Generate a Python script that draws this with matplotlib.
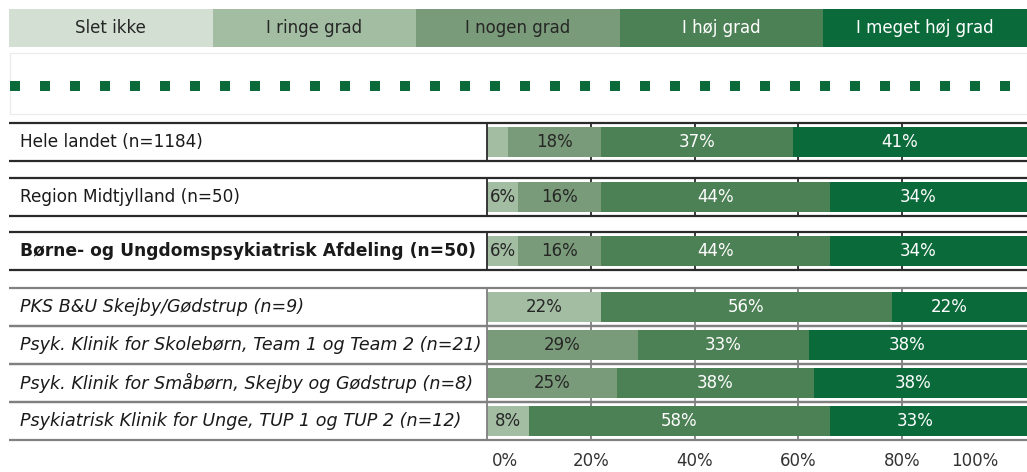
import matplotlib
matplotlib.use("Agg")
import matplotlib.pyplot as plt
import matplotlib.transforms as mtransforms
from matplotlib.lines import Line2D
from matplotlib.patches import Rectangle
import numpy as np

plt.rcParams['font.family'] = ['DejaVu Sans']

# ---------------- data ----------------
categories = ["Slet ikke", "I ringe grad", "I nogen grad", "I høj grad", "I meget høj grad"]
groups = [
    "Hele landet (n=1184)",
    "Region Midtjylland (n=50)",
    "Børne- og Ungdomspsykiatrisk Afdeling (n=50)",
    "PKS B&U Skejby/Gødstrup (n=9)",
    "Psyk. Klinik for Skolebørn, Team 1 og Team 2 (n=21)",
    "Psyk. Klinik for Småbørn, Skejby og Gødstrup (n=8)",
    "Psykiatrisk Klinik for Unge, TUP 1 og TUP 2 (n=12)",
]
slet_ikke = [0, 0, 0, 0, 0, 0, 0]
ringe_grad = [4, 6, 6, 22, 0, 0, 8]
nogen_grad = [18, 16, 16, 0, 29, 25, 0]
hoej_grad = [37, 44, 44, 56, 33, 38, 58]
meget_hoej_grad = [41, 34, 34, 22, 38, 38, 33]
tick_values = [0, 20, 40, 60, 80, 100]
tick_labels = ["0%", "20%", "40%", "60%", "80%", "100%"]

series = [slet_ikke, ringe_grad, nogen_grad, hoej_grad, meget_hoej_grad]

# ---------------- style ----------------
colors = ['#D3DFD3', '#A3BDA3', '#7A9B7A', '#4C8055', '#0B6A3A']
text_colors = ['#262626', '#262626', '#262626', 'white', 'white']
FS = 12
label_fs = {'normal': 12.2, 'bold': 12.3, 'italic': 12.6}

W, H = 1027, 472
fig = plt.figure(figsize=(W / 100, H / 100), dpi=100)

# pixel layout
X0_PX = 487          # 0 % position
PX_PER_PCT = 5.19
LEFT_PX = 9
AX_BOTTOM_PX = 450   # bottom of main axes (from top)
row_centers = [142, 196.5, 251, 306.5, 344.5, 383, 420.5]
row_h = 38
bar_h = 30
upper = [True, True, True, False, False, False, False]
label_style = ['normal', 'normal', 'bold', 'italic', 'italic', 'italic', 'italic']

xmin = (0 - X0_PX) / PX_PER_PCT
xmax = (W - X0_PX) / PX_PER_PCT
xl = (LEFT_PX - X0_PX) / PX_PER_PCT

# ---------------- legend ----------------
lax = fig.add_axes([LEFT_PX / W, 1 - 47 / H, (W - LEFT_PX) / W, 38 / H])
lax.barh([0] * len(categories), [1] * len(categories), left=np.arange(len(categories)),
         color=colors, height=1.0, edgecolor='none')
for i, cat in enumerate(categories):
    lax.text(i + 0.5, 0, cat, ha='center', va='center', fontsize=FS, color=text_colors[i])
lax.set_xlim(0, len(categories))
lax.set_ylim(-0.5, 0.5)
lax.axis('off')

# dotted line box
fig.add_artist(Rectangle((10 / W, 1 - 114 / H), (W - 10) / W, 61 / H, transform=fig.transFigure,
                         facecolor='white', edgecolor='#EBEBEB', lw=0.8))
fig.add_artist(Line2D([10 / W, 1.0], [1 - 86 / H, 1 - 86 / H], transform=fig.transFigure,
                      color='#0B6A3A', lw=7.2, linestyle=(0, (1, 2)), solid_capstyle='butt',
                      dash_capstyle='butt'))

# ---------------- main axes ----------------
ax = fig.add_axes([0, 1 - AX_BOTTOM_PX / H, 1, AX_BOTTOM_PX / H])
ax.set_xlim(xmin, xmax)
ax.set_ylim(AX_BOTTOM_PX, 0)

for r, (g, yc) in enumerate(zip(groups, row_centers)):
    top, bot = yc - row_h / 2, yc + row_h / 2
    lc = '#2a2a2a' if upper[r] else '#808080'
    # gridlines inside row
    ax.vlines(tick_values[1:-1], top, bot, colors=lc, lw=1.3, zorder=1)
    # row borders
    ax.hlines([top, bot], xl, xmax, colors=lc, lw=1.6, zorder=4)
    ax.vlines([0], top, bot, colors=lc, lw=1.3, zorder=4)
    # label
    st = label_style[r]
    ax.text(xl + 11 / PX_PER_PCT, yc, g, ha='left', va='center', fontsize=label_fs[st],
            color='#1a1a1a',
            fontweight='bold' if st == 'bold' else 'normal',
            fontstyle='italic' if st == 'italic' else 'normal')
    # bars
    left = 0
    nonzero = [k for k in range(len(series)) if series[k][r] > 0]
    last = nonzero[-1]
    for k in nonzero:
        v = series[k][r]
        width = (xmax - left) if k == last else v
        ax.barh(yc, width, left=left, height=bar_h, color=colors[k], edgecolor='none', zorder=2)
        if v >= 5:
            ax.text(left + v / 2, yc, f"{v}%", ha='center', va='center', fontsize=FS,
                    color=text_colors[k], zorder=3)
        left += v

# x ticks
ax.set_xticks(tick_values)
ax.set_xticklabels(tick_labels, fontsize=FS, color='#333333')
ax.tick_params(axis='x', length=0, pad=1.5)
ax.tick_params(axis='y', left=False, labelleft=False)
labels = ax.get_xticklabels()
labels[0].set_horizontalalignment('left')
labels[0].set_transform(labels[0].get_transform() +
                        mtransforms.ScaledTranslation(5 / 100, 0, fig.dpi_scale_trans))
labels[-1].set_horizontalalignment('right')
labels[-1].set_transform(labels[-1].get_transform() +
                         mtransforms.ScaledTranslation(-8 / 100, 0, fig.dpi_scale_trans))
for s in ax.spines.values():
    s.set_visible(False)
ax.patch.set_alpha(0)

fig.savefig("out.png", dpi=100)
